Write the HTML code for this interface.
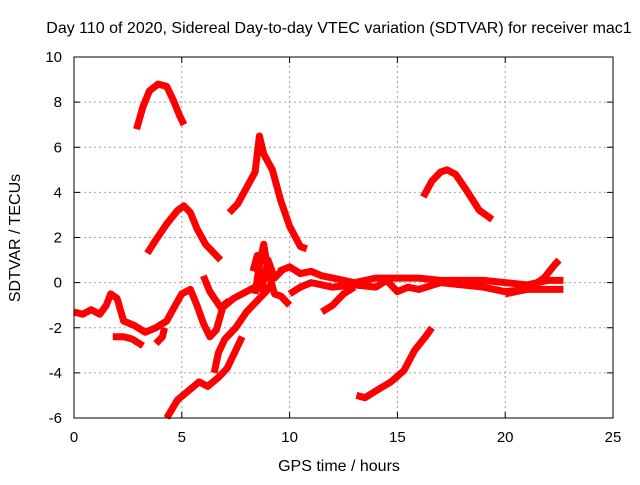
<!DOCTYPE html>
<html><head><meta charset="utf-8"><style>
body{margin:0;background:#fff;}
svg text{font-family:"Liberation Sans",sans-serif;font-size:15px;fill:#000;}
svg text.big{font-size:16px;}
</style></head><body>
<svg id="chart" width="640" height="480" xmlns="http://www.w3.org/2000/svg">
<rect width="640" height="480" fill="#fff"/>
<text class="big" x="339" y="33" text-anchor="middle">Day 110 of 2020, Sidereal Day-to-day VTEC variation (SDTVAR) for receiver mac1</text>
<text class="big" x="339" y="471" text-anchor="middle">GPS time / hours</text>
<text class="big" transform="translate(20,238) rotate(-90)" text-anchor="middle">SDTVAR / TECUs</text>
<g id="grid"></g>
<g id="series"></g>
<rect x="74" y="57" width="539" height="361" fill="none" stroke="#000" stroke-width="1"/>
<g id="ticks"></g>
</svg>
<script>
const xTicks=[0,5,10,15,20,25];
const yTicks=[-6,-4,-2,0,2,4,6,8,10];
const segA=[[2.9,6.8],[3.2,7.8],[3.5,8.5],[3.9,8.8],[4.3,8.7],[4.6,8.1],[4.9,7.4],[5.1,7.0]];
const segB=[[3.4,1.3],[3.8,1.9],[4.3,2.6],[4.8,3.2],[5.1,3.4],[5.4,3.1],[5.7,2.4],[6.1,1.7],[6.4,1.4],[6.8,1.0]];
const segC=[[7.2,3.1],[7.6,3.5],[8.0,4.2],[8.4,4.9],[8.6,6.5],[8.8,5.7],[9.2,5.0],[9.6,3.6],[10.0,2.5],[10.5,1.6],[10.8,1.5]];
const segD=[[16.2,3.8],[16.6,4.5],[17.0,4.9],[17.3,5.0],[17.7,4.8],[18.2,4.1],[18.8,3.2],[19.4,2.8]];
const segE=[[13.1,-5.0],[13.5,-5.1],[14.0,-4.8],[14.7,-4.4],[15.3,-3.9],[15.8,-3.0],[16.3,-2.4],[16.6,-2.0]];
const segF=[[4.3,-6.0],[4.8,-5.2],[5.3,-4.8],[5.8,-4.4],[6.2,-4.6],[6.7,-4.2],[7.1,-3.8],[7.5,-3.0],[7.8,-2.4]];
const segG=[[6.5,-4.0],[6.7,-3.1],[7.0,-2.5],[7.5,-2.0],[8.0,-1.3],[8.5,-0.8],[8.9,-0.4],[9.2,0.0]];
const segH=[[0,-1.3],[0.4,-1.4],[0.8,-1.2],[1.2,-1.4],[1.5,-1.0],[1.7,-0.5],[2.0,-0.7],[2.3,-1.7],[2.8,-1.9],[3.3,-2.2],[3.8,-2.0],[4.3,-1.7],[4.7,-1.0],[5.0,-0.5],[5.4,-0.3],[5.7,-1.0],[6.0,-1.8],[6.3,-2.4],[6.6,-2.1],[6.9,-1.1],[7.4,-0.7],[8.0,-0.4],[8.4,-0.2]];
const segI=[[1.8,-2.4],[2.3,-2.4],[2.7,-2.5],[3.2,-2.8]];
const segJ=[[3.8,-2.7],[4.1,-2.4],[4.2,-2.0]];
const segK=[[6.0,0.3],[6.3,-0.4],[6.8,-1.1],[7.2,-0.8]];
const segL=[[8.3,0.5],[8.5,1.2],[8.7,-0.3],[9.0,1.0],[9.3,0.2],[9.7,0.6]];
const segM=[[8.4,-0.5],[8.6,0.8],[8.8,1.7],[9.0,0.5],[9.3,-0.5],[9.6,-0.6],[10.0,-1.0]];
const segN=[[9.5,0.5],[10,0.7],[10.5,0.4],[11,0.5],[11.5,0.3],[12,0.2],[13,0.0],[13.5,0.1],[14,0.2],[15,0.2],[16,0.2],[17,0.1],[18,0.1],[19,0.1],[20,0.0],[21,-0.1],[22,0.1],[22.7,0.1]];
const segO=[[10,-0.5],[10.5,-0.2],[11,0.0],[12,-0.2],[13,-0.1],[14,-0.2],[14.5,0.1],[15,-0.4],[15.5,-0.2],[16,-0.3],[17,0.0],[18,-0.1],[19,-0.2],[20,-0.4],[21,-0.3],[22,-0.3],[22.7,-0.3]];
const segP=[[11.5,-1.3],[12,-1.0],[12.5,-0.5],[13,-0.2]];
const segQ=[[20,-0.5],[21,-0.3],[21.8,0.2],[22.3,0.8],[22.5,1.0]];
const allSegs=[segA,segB,segC,segD,segE,segF,segG,segH,segI,segJ,segK,segL,segM,segN,segO,segP,segQ];
const NS="http://www.w3.org/2000/svg";
const X0=74,X1=613,Y0=418,Y1=57;
function sx(v){return X0+(v-0)/25*(X1-X0);}
function sy(v){return Y0-(v+6)/16*(Y0-Y1);}
const grid=document.getElementById('grid'),ticks=document.getElementById('ticks'),ser=document.getElementById('series');
function mk(tag,attrs,parent){const e=document.createElementNS(NS,tag);for(const k in attrs)e.setAttribute(k,attrs[k]);parent.appendChild(e);return e;}
xTicks.forEach(t=>{
  const x=sx(t);
  if(t>0&&t<25){const g=mk('line',{x1:x,x2:x,y1:Y0,y2:Y1,stroke:'#a0a0a0','stroke-dasharray':'2,3'},grid);
  
  }
  mk('line',{x1:x,x2:x,y1:Y0,y2:Y0-6,stroke:'#000'},ticks);
  mk('line',{x1:x,x2:x,y1:Y1,y2:Y1+6,stroke:'#000'},ticks);
  const tx=mk('text',{x:x,y:Y0+24,'text-anchor':'middle'},ticks);tx.textContent=t;
  
  
});
yTicks.forEach(t=>{
  const y=sy(t);
  if(t>-6&&t<10){const g=mk('line',{x1:X0,x2:X1,y1:y,y2:y,stroke:'#a0a0a0','stroke-dasharray':'2,3'},grid);
  
  }
  mk('line',{x1:X0,x2:X0+6,y1:y,y2:y,stroke:'#000'},ticks);
  mk('line',{x1:X1,x2:X1-6,y1:y,y2:y,stroke:'#000'},ticks);
  const tx=mk('text',{x:X0-12,y:y+5,'text-anchor':'end'},ticks);tx.textContent=t;
  
  
});
allSegs.forEach(s=>{
  const p=mk('polyline',{points:s.map(d=>sx(d[0])+','+sy(d[1])).join(' '),fill:'none',stroke:'#ff0000','stroke-width':7,'stroke-linejoin':'round','stroke-linecap':'butt'},ser);
  
  
});
</script>
</body></html>
